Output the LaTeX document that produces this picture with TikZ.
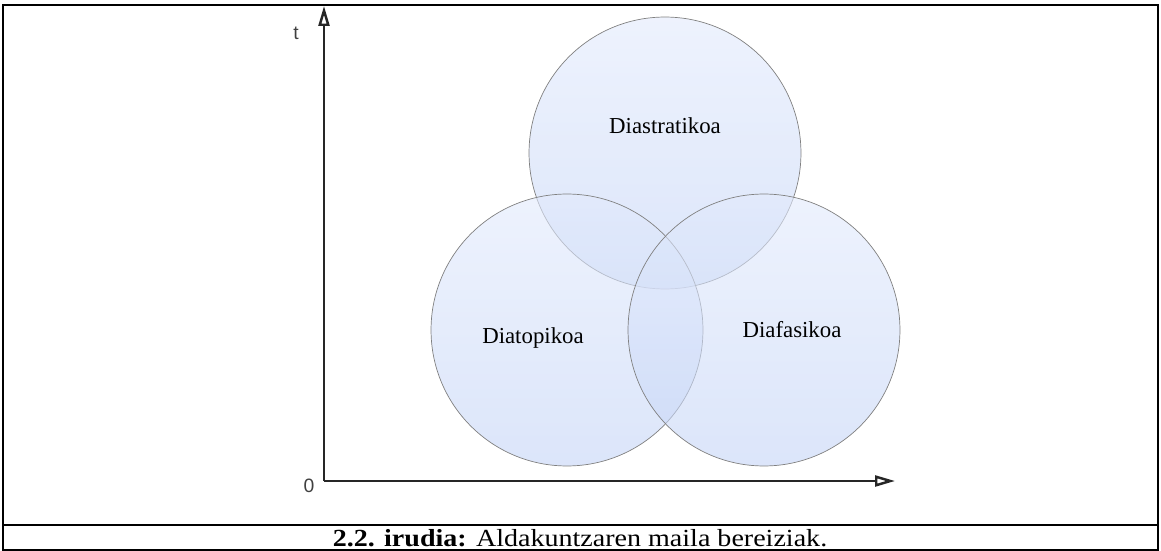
\documentclass[tikz,border=0pt]{standalone}
\usepackage{fontspec}
\setmainfont{Liberation Serif}
\newfontfamily\axisfont{Liberation Sans}
\usetikzlibrary{arrows.meta}
\definecolor{venntop}{RGB}{226,234,252}
\definecolor{vennbot}{RGB}{196,212,246}
\tikzset{%
  frame/.style   = {draw=black, line width=0.7pt},%
  rule/.style    = {draw=black, line width=1.6pt},%
  axis/.style    = {draw=black!85, line width=1.4pt,%
                    -{Triangle[open, length=0.4cm, width=0.22cm]}},%
  venn/.style    = {circle, draw=black!50, line width=0.4pt,%
                    minimum size=5.44cm, inner sep=0pt,%
                    top color=venntop, bottom color=vennbot,%
                    fill opacity=0.6, draw opacity=1},%
  term/.style    = {font=\fontsize{13}{15}\selectfont},%
  ticklabel/.style = {font=\axisfont\fontsize{11}{13}\selectfont, text=black!75}%
}
\begin{document}
\begin{tikzpicture}[x=0.02cm, y=-0.02cm]
	\useasboundingbox (0,0) rectangle (1161,551);
	% frame and caption rule
	\draw[frame] (3,5) rectangle (1158,550);
	\draw[rule] (3,5) -- (1158,5);
	\draw[rule] (3,525) -- (1158,525);
	% axes
	\coordinate (orig) at (324,481);
	\coordinate (tend) at (324,6);
	\coordinate (xend) at (895,481);
	\draw[axis] (orig) -- (tend);
	\draw[axis] (orig) -- (xend);
	\node[ticklabel] (t) at (296,33) {t};
	\node[ticklabel] (zero) at (309,486) {0};
	% the three circles
	\node[venn] (strat) at (665,153) {};
	\node[venn] (topik) at (567,330) {};
	\node[venn] (fasik) at (764,330) {};
	\node[term] at ([yshift=0.54cm]strat) {Diastratikoa};
	\node[term] at ([xshift=-0.68cm,yshift=-0.16cm]topik) {Diatopikoa};
	\node[term] at ([xshift=0.56cm]fasik) {Diafasikoa};
	% caption
	\node[font=\fontsize{14}{16}\selectfont, inner sep=0pt] (caption) at (580,538)
		{\scalebox{1.14}[1]{\textbf{2.2. irudia:} Aldakuntzaren maila bereiziak.}};
\end{tikzpicture}
\end{document}
